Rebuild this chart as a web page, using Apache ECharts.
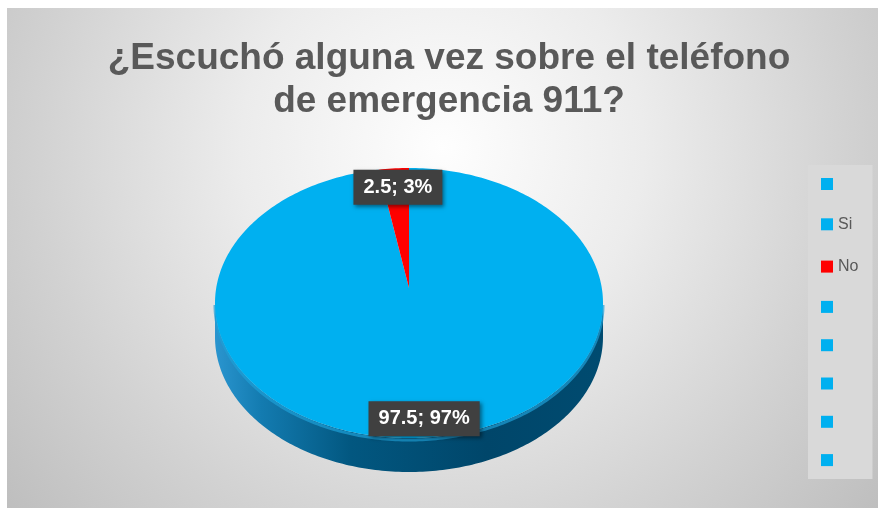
<!DOCTYPE html>
<html><head><meta charset="utf-8">
<script src="https://cdn.jsdelivr.net/npm/echarts@6/dist/echarts.min.js"></script>
<style>html,body{margin:0;padding:0;background:#fff;}#c{width:878px;height:508px;}</style>
</head><body><div id="c"></div>
<script>
// ---- data ----
const titleLines = ['¿Escuchó alguna vez sobre el teléfono', 'de emergencia 911?'];
const legendCategories = ['', 'Si', 'No', '', '', '', '', ''];
const legendColors = ['#00b0f0', '#00b0f0', '#ff0000', '#00b0f0', '#00b0f0', '#00b0f0', '#00b0f0', '#00b0f0'];
const sliceNames = ['Si', 'No'];
const sliceValues = [97.5, 2.5];
const slicePercentLabels = [97, 3];
const sliceColors = ['#00b0f0', '#ff0000'];

// ---- layout ----
const CX = 409, CY = 303, RX = 194, RY = 135, DEPTH = 34, APEX_DY = -15, LABEL_F = 0.86;
const total = sliceValues.reduce((a, b) => a + b, 0);
const deg = Math.PI / 180;
function pt(theta, dy) { return [CX + RX * Math.sin(theta), CY - RY * Math.cos(theta) + (dy || 0)]; }
function arc(a1, a2, dy) {
  const pts = []; const n = Math.max(2, Math.ceil((a2 - a1) / (1 * deg)));
  for (let k = 0; k <= n; k++) pts.push(pt(a1 + (a2 - a1) * k / n, dy));
  return pts;
}
const legendKeys = legendCategories.map((n, i) => n || '\u200b'.repeat(i + 1));

function renderItem(params, api) {
  const i = params.dataIndex;
  const v = api.value(1);
  let start = 0;
  for (let k = 0; k < i; k++) start += sliceValues[k];
  const a1 = start / total * 2 * Math.PI;
  const a2 = (start + v) / total * 2 * Math.PI;
  const children = [];
  // side (front half only: 90deg .. 270deg clockwise from 12 o'clock)
  const s1 = Math.max(a1, 90 * deg), s2 = Math.min(a2, 270 * deg);
  if (s2 > s1) {
    const top = arc(s1, s2, 0);
    const bot = arc(s1, s2, DEPTH).reverse();
    children.push({
      type: 'polygon', z2: 1, shape: { points: top.concat(bot) },
      style: { fill: { type: 'linear', x: 0, y: 0, x2: 1, y2: 0, colorStops: [
        { offset: 0, color: '#2a95cf' }, { offset: 0.12, color: '#137bb0' },
        { offset: 0.35, color: '#025780' }, { offset: 0.7, color: '#00466a' },
        { offset: 1, color: '#004b70' }] } }
    });
    children.push({
      type: 'polyline', z2: 2, shape: { points: arc(s1, s2, 2) },
      style: { stroke: 'rgba(30,160,215,0.7)', lineWidth: 3, fill: null }
    });
  }
  // top face
  const apex = [CX, CY + APEX_DY];
  children.push({
    type: 'polygon', z2: 10, shape: { points: [apex].concat(arc(a1, a2, 0)) },
    style: { fill: api.visual('color') }
  });
  // label
  const mid = (a1 + a2) / 2;
  const lp = [CX + 2 + RX * LABEL_F * Math.sin(mid), CY - RY * LABEL_F * Math.cos(mid)];
  children.push({
    type: 'text', z2: 100, x: lp[0], y: lp[1],
    style: {
      text: v + '; ' + slicePercentLabels[i] + '%',
      fill: '#ffffff', font: 'bold 20px "Liberation Sans", Arial, sans-serif',
      align: 'center', verticalAlign: 'middle',
      backgroundColor: '#404040', padding: [8, 10, 7, 10],
      shadowColor: 'rgba(0,0,0,0.45)', shadowBlur: 4, shadowOffsetX: 2, shadowOffsetY: 2
    }
  });
  return { type: 'group', children };
}

const chart = echarts.init(document.getElementById('c'));
chart.setOption({
  animation: false,
  graphic: [{
    type: 'rect', silent: true, z: -10,
    shape: { x: 7, y: 8, width: 871, height: 500 },
    style: { fill: { type: 'radial', x: 0.5, y: 0.28, r: 1.15, colorStops: [
      { offset: 0, color: '#fefefe' }, { offset: 0.35, color: '#ececec' },
      { offset: 0.7, color: '#d2d2d2' }, { offset: 1, color: '#bdbdbd' }] } }
  }],
  title: {
    text: titleLines.join('\n'), left: 444, top: 32, textAlign: 'center',
    textStyle: { fontFamily: '"Liberation Sans", Arial, sans-serif', fontWeight: 'bold', fontSize: 37, lineHeight: 43, color: '#595959' }
  },
  legend: {
    orient: 'vertical', left: 808, top: 165, padding: [13, 14, 13, 13],
    itemWidth: 12, itemHeight: 12, itemGap: 26.3, icon: 'rect', selectedMode: false,
    backgroundColor: '#d9d9d9',
    data: legendKeys,
    formatter: n => n.replace(/\u200b/g, ''),
    textStyle: { fontFamily: '"Liberation Sans", Arial, sans-serif', fontSize: 16, lineHeight: 12, color: '#595959' }
  },
  series: [
    {
      type: 'pie', radius: [0, 0], center: [-50, -50], silent: true,
      label: { show: false }, labelLine: { show: false },
      data: legendKeys.map((k, i) => ({ name: k, value: 1, itemStyle: { color: legendColors[i] } }))
    },
    {
      type: 'custom', coordinateSystem: 'none', renderItem,
      data: sliceValues.map((v, i) => ({ name: sliceNames[i], value: [i, v], itemStyle: { color: sliceColors[i] } }))
    }
  ]
});
</script></body></html>
